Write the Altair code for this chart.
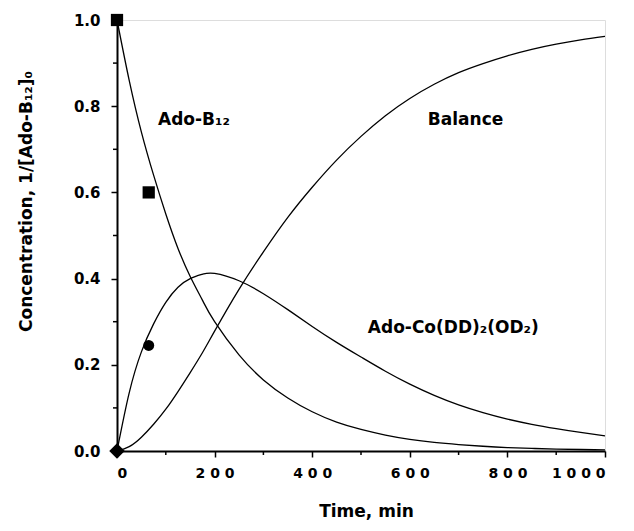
import altair as alt
import pandas as pd

# ---- data ----
times = [0, 25, 50, 75, 100, 125, 150, 175, 200, 250, 300, 350, 400, 450,
         500, 550, 600, 650, 700, 750, 800, 850, 900, 950, 1000]
ado_b12 = [1.0, 0.86, 0.74, 0.64, 0.55, 0.47, 0.405, 0.35, 0.30, 0.223, 0.165,
           0.123, 0.091, 0.067, 0.05, 0.037, 0.027, 0.02, 0.015, 0.011, 0.008,
           0.006, 0.0045, 0.0035, 0.0025]
ado_co = [0.0, 0.135, 0.23, 0.295, 0.345, 0.38, 0.40, 0.41, 0.412, 0.395, 0.365,
          0.328, 0.289, 0.252, 0.218, 0.185, 0.155, 0.129, 0.107, 0.089, 0.074,
          0.062, 0.052, 0.043, 0.035]
balance = [0.0, 0.01, 0.032, 0.062, 0.097, 0.138, 0.182, 0.228, 0.278, 0.375,
           0.462, 0.542, 0.612, 0.675, 0.73, 0.778, 0.818, 0.851, 0.878, 0.899, 0.917,
           0.932, 0.944, 0.954, 0.962]

square_t = [0, 65]
square_y = [1.0, 0.6]
circle_t = [65]
circle_y = [0.245]
diamond_t = [0]
diamond_y = [0.0]

x_major = [0, 200, 400, 600, 800, 1000]
x_minor = [100, 300, 500, 700, 900]
y_major = [0.0, 0.2, 0.4, 0.6, 0.8, 1.0]
y_minor = [0.1, 0.3, 0.5, 0.7, 0.9]

label_text = ["Ado-B\u2081\u2082", "Balance", "Ado-Co(DD)\u2082(OD\u2082)"]
label_t = [84, 637, 514]
label_y = [0.756, 0.756, 0.274]

FONT = "DejaVu Sans"

rows = []
for name, vals in [("Ado-B12", ado_b12), ("Ado-Co", ado_co), ("Balance", balance)]:
    for tt, v in zip(times, vals):
        rows.append({"t": tt, "c": v, "series": name})
curves = pd.DataFrame(rows)

xs = alt.Scale(domain=[0, 1000], nice=False, zero=False)
ys = alt.Scale(domain=[0, 1], nice=False)

x_axis = alt.Axis(values=x_major, format="d", title="Time, min",
                  labelExpr="join(split(datum.label, ''), '\u00a0')",
                  labelFont=FONT, labelFontWeight="bold", labelFontSize=14, labelColor="black",
                  labelPadding=9, tickSize=6, tickWidth=1.5, tickColor="black",
                  domainColor="black", domainWidth=2,
                  titleFont=FONT, titleFontWeight="bold", titleFontSize=17, titleColor="black",
                  titleX=249, titleY=65, titleBaseline="alphabetic", titleAlign="center",
                  grid=False)
y_axis = alt.Axis(values=y_major, format=".1f", title="Concentration, 1/[Ado-B\u2081\u2082]\u2080",
                  labelFont=FONT, labelFontWeight="bold", labelFontSize=15, labelColor="black",
                  labelPadding=11, tickSize=6, tickWidth=1.5, tickColor="black",
                  domainColor="black", domainWidth=2,
                  titleFont=FONT, titleFontWeight="bold", titleFontSize=17, titleColor="black",
                  titleX=-86, titleY=181, titleBaseline="alphabetic", titleAlign="center",
                  titleAngle=270, grid=False)

lines = alt.Chart(curves).mark_line(color="black", strokeWidth=1.3, interpolate="natural").encode(
    x=alt.X("t:Q", scale=xs, axis=x_axis),
    y=alt.Y("c:Q", scale=ys, axis=y_axis),
    detail="series:N",
)

sq = alt.Chart(pd.DataFrame({"t": square_t, "c": square_y})).mark_point(
    shape="square", filled=True, color="black", size=150, opacity=1).encode(
    x=alt.X("t:Q", scale=xs), y=alt.Y("c:Q", scale=ys))
ci = alt.Chart(pd.DataFrame({"t": circle_t, "c": circle_y})).mark_point(
    shape="circle", filled=True, color="black", size=120, opacity=1).encode(
    x=alt.X("t:Q", scale=xs), y=alt.Y("c:Q", scale=ys))
di = alt.Chart(pd.DataFrame({"t": diamond_t, "c": diamond_y})).mark_point(
    shape="diamond", filled=True, color="black", size=240, opacity=1).encode(
    x=alt.X("t:Q", scale=xs), y=alt.Y("c:Q", scale=ys))

xmin = alt.Chart(pd.DataFrame({"t": x_minor})).mark_rule(color="black", strokeWidth=1.5).encode(
    x=alt.X("t:Q", scale=xs), y=alt.value(431), y2=alt.value(435))
ymin = alt.Chart(pd.DataFrame({"c": y_minor})).mark_rule(color="black", strokeWidth=1.5).encode(
    y=alt.Y("c:Q", scale=ys), x=alt.value(-4), x2=alt.value(0))

labels = alt.Chart(pd.DataFrame({"t": label_t, "c": label_y, "txt": label_text})).mark_text(
    font=FONT, fontWeight="bold", fontSize=17, align="left", baseline="alphabetic", color="black").encode(
    x=alt.X("t:Q", scale=xs), y=alt.Y("c:Q", scale=ys), text="txt:N")

chart = alt.layer(lines, xmin, ymin, labels, sq, ci, di).properties(
    width=488, height=431,
    autosize=alt.AutoSizeParams(type="none"),
    padding={"left": 117, "top": 20, "right": 29, "bottom": 80},
).configure_view(stroke="black", strokeWidth=1.5).configure(background="white")

chart.save("out.html", embed_options={"renderer": "svg", "actions": False})
